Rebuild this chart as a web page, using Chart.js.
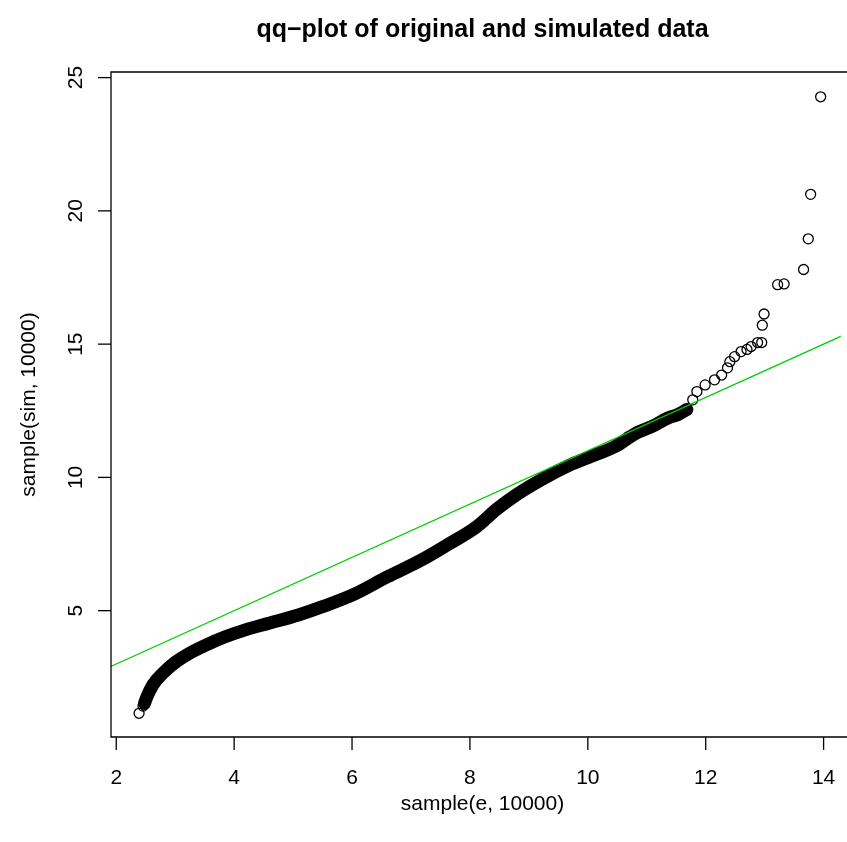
<!DOCTYPE html>
<html>
<head>
<meta charset="utf-8">
<script src="https://cdn.jsdelivr.net/npm/chart.js@4.4.1/dist/chart.umd.min.js"></script>
<style>
  html, body { margin: 0; padding: 0; background: #ffffff; overflow: hidden; }
  #wrap { width: 847px; height: 842px; position: relative; }
</style>
</head>
<body>
<div id="wrap"><canvas id="c" width="847" height="842"></canvas></div>
<script>
// ---- data ----
const titleText = "qq\u2212plot of original and simulated data";
const xTitle = "sample(e, 10000)";
const yTitle = "sample(sim, 10000)";
const xTicks = [2, 4, 6, 8, 10, 12, 14];
const yTicks = [5, 10, 15, 20, 25];

// dense part of the qq curve (centre of the band of overlapping circles)
const bandX = [2.48, 2.51, 2.62, 2.79, 3.02, 3.24, 3.52, 3.86, 4.19, 4.59, 5.09, 5.50, 6.04, 6.60, 7.16, 7.61, 8.12, 8.45, 8.79, 9.24, 9.69, 10.00, 10.47, 10.81, 11.10, 11.36, 11.53, 11.68];
const bandY = [1.52, 1.71, 2.21, 2.65, 3.09, 3.40, 3.71, 4.03, 4.28, 4.53, 4.84, 5.15, 5.62, 6.27, 6.88, 7.46, 8.16, 8.80, 9.35, 9.95, 10.46, 10.74, 11.17, 11.65, 11.92, 12.23, 12.36, 12.55];

// individually visible circles (lower end and upper tail)
const ptX = [2.387, 2.454, 2.48, 10.69, 10.92, 11.15, 11.36, 11.53, 11.68, 11.78, 11.85, 11.99, 12.15, 12.27, 12.37, 12.41, 12.49, 12.60, 12.70, 12.77, 12.88, 12.95, 12.96, 12.99, 13.22, 13.33, 13.66, 13.74, 13.78, 13.95];
const ptY = [1.15, 1.42, 1.52, 11.53, 11.78, 11.97, 12.23, 12.34, 12.53, 12.91, 13.22, 13.47, 13.66, 13.84, 14.11, 14.34, 14.53, 14.72, 14.80, 14.91, 15.06, 15.06, 15.71, 16.13, 17.23, 17.26, 17.80, 18.95, 20.62, 24.28];

// reference line y = 1 + x
const lineX = [1.5, 15.0];
const lineY = [2.5, 16.0];

const xMin = 1.911, xMax = 14.29;
const yMin = 0.26, yMax = 25.21;

const toPts = (xs, ys) => xs.map((x, i) => ({ x: x, y: ys[i] }));

const FONT = "'Liberation Sans', Arial, Helvetica, sans-serif";

const rAxes = {
  id: 'rAxes',
  afterDraw(chart) {
    const ctx = chart.ctx;
    const a = chart.chartArea;
    const xs = chart.scales.x, ys = chart.scales.y;
    ctx.save();
    ctx.strokeStyle = '#000';
    ctx.fillStyle = '#000';
    ctx.lineWidth = 1.3;
    // box (right side lies outside the picture)
    ctx.beginPath();
    ctx.moveTo(chart.width + 5, a.top);
    ctx.lineTo(a.left, a.top);
    ctx.lineTo(a.left, a.bottom);
    ctx.lineTo(chart.width + 5, a.bottom);
    ctx.stroke();
    // x ticks
    ctx.font = '21px ' + FONT;
    ctx.textAlign = 'center';
    ctx.textBaseline = 'middle';
    xTicks.forEach(v => {
      const px = xs.getPixelForValue(v);
      ctx.beginPath();
      ctx.moveTo(px, a.bottom);
      ctx.lineTo(px, a.bottom + 13);
      ctx.stroke();
      ctx.fillText(String(v), px, a.bottom + 41);
    });
    // y ticks
    yTicks.forEach(v => {
      const py = ys.getPixelForValue(v);
      ctx.beginPath();
      ctx.moveTo(a.left, py);
      ctx.lineTo(a.left - 13, py);
      ctx.stroke();
      ctx.save();
      ctx.translate(a.left - 35, py);
      ctx.rotate(-Math.PI / 2);
      ctx.fillText(String(v), 0, 0);
      ctx.restore();
    });
    const plotCx = a.left + 371.5;
    const plotCy = (a.top + a.bottom) / 2;
    // axis titles
    ctx.fillText(xTitle, plotCx, 804);
    ctx.save();
    ctx.translate(29, plotCy);
    ctx.rotate(-Math.PI / 2);
    ctx.fillText(yTitle, 0, 0);
    ctx.restore();
    // main title
    ctx.font = 'bold 25px ' + FONT;
    ctx.fillText(titleText, plotCx, 30);
    ctx.restore();
  }
};

new Chart(document.getElementById('c'), {
  type: 'scatter',
  data: {
    datasets: [
      {
        data: toPts(lineX, lineY),
        showLine: true,
        borderColor: '#00CD00',
        borderWidth: 1.3,
        pointRadius: 0,
        clip: 0
      },
      {
        data: toPts(bandX, bandY),
        showLine: true,
        borderColor: '#000',
        borderWidth: 13,
        borderCapStyle: 'round',
        borderJoinStyle: 'round',
        cubicInterpolationMode: 'monotone',
        pointRadius: 0
      },
      {
        data: toPts(ptX, ptY),
        showLine: false,
        pointStyle: 'circle',
        pointRadius: 5,
        pointBorderWidth: 1.3,
        pointBorderColor: '#000',
        pointBackgroundColor: 'rgba(0,0,0,0)'
      }
    ]
  },
  options: {
    responsive: false,
    animation: false,
    events: [],
    layout: { padding: { left: 111, top: 72, right: 0, bottom: 105 } },
    plugins: { legend: { display: false }, tooltip: { enabled: false }, title: { display: false } },
    scales: {
      x: { type: 'linear', min: xMin, max: xMax, display: false },
      y: { type: 'linear', min: yMin, max: yMax, display: false }
    }
  },
  plugins: [rAxes]
});
</script>
</body>
</html>
